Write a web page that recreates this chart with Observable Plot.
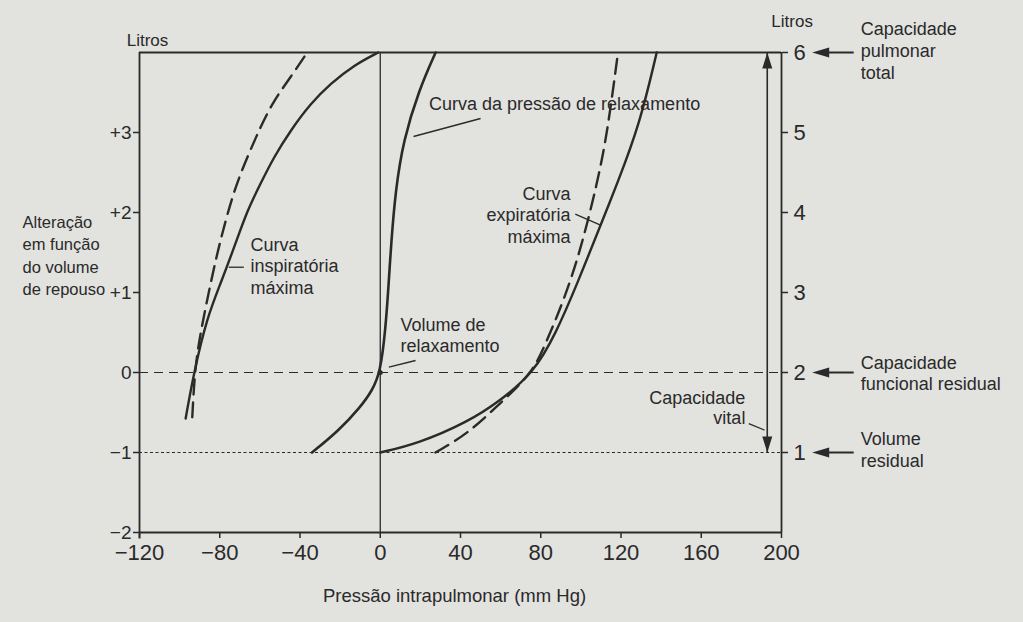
<!DOCTYPE html>
<html>
<head>
<meta charset="utf-8">
<script src="https://cdn.jsdelivr.net/npm/d3@7"></script>
<script src="https://cdn.jsdelivr.net/npm/@observablehq/plot@0.6"></script>
<style>
  html, body { margin: 0; padding: 0; background: #e2e2df; }
  #chart svg { display: block; }
</style>
</head>
<body>
<div id="chart"></div>
<script>
// ---- tick values ----
const xTicks = [-120, -80, -40, 0, 40, 80, 120, 160, 200];
const yTicksLeft = [-2, -1, 0, 1, 2, 3];
const yTicksRight = [-1, 0, 1, 2, 3, 4];
const rightTickLabels = ["1", "2", "3", "4", "5", "6"];

// ---- curves: pressure (mm Hg) vs change from resting volume (L) ----
const relaxP = [-34, -20.6, -9.8, -4, 0, 2.6, 4.3, 5.4, 7.6, 11.5, 19.2, 27.6];
const relaxV = [-1, -0.725, -0.43, -0.225, 0, 0.525, 1.15, 1.6, 2.275, 2.9, 3.525, 4];

const inspSolidP = [-97, -92.9, -86.3, -79.6, -72.3, -66.3, -59.7, -53.1, -44.7, -34.8, -24.8, -13.2, -1];
const inspSolidV = [-0.575, 0, 0.69, 1.11, 1.6, 2.025, 2.36, 2.69, 3.025, 3.36, 3.61, 3.84, 4];
const inspDashP = [-93.7, -92.3, -88.7, -84.6, -80.3, -73, -66.3, -59.7, -53.1, -44.7, -36.4];
const inspDashV = [-0.56, 0.1, 0.61, 1.11, 1.6, 2.275, 2.69, 3.07, 3.4, 3.69, 4];

const expSolidP = [0, 18.6, 43.5, 60, 76.5, 87.4, 98.2, 110.1, 118.1, 129.4, 137.8];
const expSolidV = [-1, -0.89, -0.62, -0.35, 0, 0.48, 1.11, 1.86, 2.36, 3.11, 4];
const expDashP = [27.5, 43.5, 60, 76, 82.4, 91.5, 99.8, 108.1, 113.1, 118.5];
const expDashV = [-1, -0.77, -0.38, 0, 0.36, 0.9, 1.525, 2.36, 2.98, 4];

// ---- reference volumes ----
const totalCapacity = 4;     // 6 L
const frc = 0;               // 2 L
const residualVolume = -1;   // 1 L
const vitalCapacityP = 192.9;

// ---- texts ----
const yLabel = "Alteração\nem função\ndo volume\nde repouso";
const xLabel = "Pressão intrapulmonar (mm Hg)";
const unitLabel = "Litros";
const relaxLabel = "Curva da pressão de relaxamento";
const expLabel = "Curva\nexpiratória\nmáxima";
const inspLabel = "Curva\ninspiratória\nmáxima";
const relaxVolLabel = "Volume de\nrelaxamento";
const vitalLabel = "Capacidade\nvital";
const rightLabels = ["Capacidade\npulmonar\ntotal", "Capacidade\nfuncional residual", "Volume\nresidual"];

// build tables
const toRows = (P, V) => P.map((p, i) => ({p, v: V[i]}));
const relax = toRows(relaxP, relaxV);
const inspSolid = toRows(inspSolidP, inspSolidV);
const inspDash = toRows(inspDashP, inspDashV);
const expSolid = toRows(expSolidP, expSolidV);
const expDash = toRows(expDashP, expDashV);
const refLevels = [totalCapacity, frc, residualVolume];

const ink = "#2a2a2a";
const font = "'Liberation Sans', Arial, Helvetica, sans-serif";

const head = {
  draw(ctx, l, r) {
    ctx.moveTo(0, -l);
    ctx.lineTo(r, 0);
    ctx.lineTo(-r, 0);
    ctx.closePath();
  }
};

const fmtLeft = d => d > 0 ? "+" + d : d < 0 ? "\u2212" + (-d) : "0";
const curve = "basis";

const chart = Plot.plot({
  width: 1023,
  height: 622,
  marginTop: 52,
  marginBottom: 90,
  marginLeft: 139,
  marginRight: 242,
  style: {background: "#e2e2df", color: ink, fontFamily: font},
  x: {domain: [-120, 200]},
  y: {domain: [-2, 4]},
  marks: [
    // frame
    Plot.ruleX([-120], {y1: -2.08, y2: totalCapacity, stroke: ink, strokeWidth: 1.8}),
    Plot.ruleX([200], {y1: -2, y2: totalCapacity, stroke: ink, strokeWidth: 1.8}),
    Plot.ruleY([-2], {x1: -120, x2: 200, stroke: ink, strokeWidth: 2}),
    Plot.ruleY([totalCapacity], {x1: -120, x2: 200, stroke: ink, strokeWidth: 2}),
    Plot.ruleX([0], {y1: -2, y2: totalCapacity, stroke: ink, strokeWidth: 1.3}),
    Plot.ruleY([frc], {stroke: ink, strokeWidth: 1.2, strokeDasharray: "9,6"}),
    Plot.ruleY([residualVolume], {stroke: ink, strokeWidth: 1.2, strokeDasharray: "3,2.5"}),

    // axes
    Plot.axisX({ticks: xTicks, tickSize: 6, tickPadding: 6, fontSize: 22, label: null,
      tickFormat: d => d < 0 ? "\u2212" + (-d) : String(d), stroke: ink, strokeWidth: 1.5}),
    Plot.axisY({anchor: "left", ticks: yTicksLeft, tickSize: 6, tickPadding: 2, fontSize: 19,
      label: null, tickFormat: fmtLeft, stroke: ink, strokeWidth: 1.5}),
    Plot.axisY({anchor: "right", ticks: yTicksRight, tickSize: 6, tickPadding: 6, fontSize: 22,
      label: null, tickFormat: d => rightTickLabels[yTicksRight.indexOf(d)], stroke: ink, strokeWidth: 1.5}),

    // curves
    Plot.line(relax, {x: "p", y: "v", curve, stroke: ink, strokeWidth: 2.6}),
    Plot.line(inspSolid, {x: "p", y: "v", curve, stroke: ink, strokeWidth: 2.4}),
    Plot.line(inspDash, {x: "p", y: "v", curve, stroke: ink, strokeWidth: 2.4, strokeDasharray: "15,8"}),
    Plot.line(expSolid, {x: "p", y: "v", curve, stroke: ink, strokeWidth: 2.4}),
    Plot.line(expDash, {x: "p", y: "v", curve, stroke: ink, strokeWidth: 2.4, strokeDasharray: "15,8"}),
    Plot.dot([{p: 0, v: 0}], {x: "p", y: "v", r: 2.5, fill: ink}),

    // vital capacity arrow
    Plot.link([0], {x1: vitalCapacityP, x2: vitalCapacityP, y1: residualVolume, y2: totalCapacity, stroke: ink, strokeWidth: 1.6}),
    Plot.vector([{y: totalCapacity, a: 0}, {y: residualVolume, a: 180}], {x: vitalCapacityP, y: "y", rotate: "a",
      length: 16, r: 5, anchor: "end", shape: head, fill: ink, stroke: "none"}),

    // right-hand pointers
    Plot.link(refLevels, {x1: 236, x2: 218, y1: d => d, y2: d => d, stroke: ink, strokeWidth: 1.8}),
    Plot.vector(refLevels, {x: 215.3, y: d => d, rotate: -90, length: 17, r: 5, anchor: "end",
      shape: head, fill: ink, stroke: "none"}),
    Plot.text([0, 1, 2], {x: 239.5, y: i => [4.03, 0, -0.96][i], text: i => rightLabels[i],
      textAnchor: "start", fontSize: 18, lineHeight: 1.2}),

    // units
    Plot.text([unitLabel], {x: -116, y: 4.15, fontSize: 17}),
    Plot.text([unitLabel], {x: 205.3, y: 4.39, fontSize: 17}),

    // axis titles
    Plot.text([yLabel], {x: -178.3, y: 1.475, textAnchor: "start", fontSize: 16.5, lineHeight: 1.36}),
    Plot.text([xLabel], {x: 37, y: -2.79, fontSize: 18.5}),

    // annotations
    Plot.text([relaxLabel], {x: 24.3, y: 3.35, textAnchor: "start", fontSize: 18}),
    Plot.link([0], {x1: 16.6, y1: 2.95, x2: 50, y2: 3.175, stroke: ink, strokeWidth: 1.3}),
    Plot.text([expLabel], {x: 94.8, y: 1.975, textAnchor: "end", fontSize: 18, lineHeight: 1.2}),
    Plot.link([0], {x1: 97.2, y1: 1.98, x2: 110.1, y2: 1.84, stroke: ink, strokeWidth: 1.3}),
    Plot.text([inspLabel], {x: -64.7, y: 1.34, textAnchor: "start", fontSize: 18, lineHeight: 1.2}),
    Plot.link([0], {x1: -75.5, y1: 1.316, x2: -68, y2: 1.316, stroke: ink, strokeWidth: 1.3}),
    Plot.text([relaxVolLabel], {x: 10.1, y: 0.47, textAnchor: "start", fontSize: 18, lineHeight: 1.17}),
    Plot.link([0], {x1: 4.3, y1: 0.067, x2: 17.6, y2: 0.15, stroke: ink, strokeWidth: 1.3}),
    Plot.text([vitalLabel], {x: 182, y: -0.4375, textAnchor: "end", fontSize: 18, lineHeight: 1.15}),
    Plot.link([0], {x1: 183.7, y1: -0.64, x2: 191.5, y2: -0.72, stroke: ink, strokeWidth: 1.3})
  ]
});
document.getElementById("chart").appendChild(chart);
</script>
</body>
</html>
